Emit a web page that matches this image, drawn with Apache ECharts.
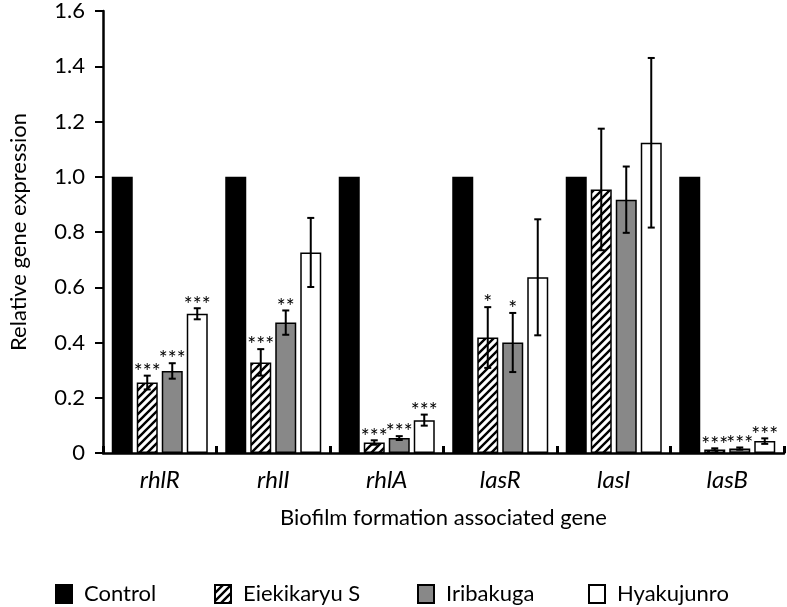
<!DOCTYPE html>
<html>
<head>
<meta charset="utf-8">
<script src="https://cdn.jsdelivr.net/npm/echarts@6/dist/echarts.min.js"></script>
<style>html,body{margin:0;padding:0;background:#fff}#chart{width:787px;height:607px}</style>
</head>
<body>
<div id="chart"></div>
<script>
const categories = ['rhlR', 'rhlI', 'rhlA', 'lasR', 'lasI', 'lasB'];
const seriesNames = ['Control', 'Eiekikaryu S', 'Iribakuga', 'Hyakujunro'];
const yTicks = [0, 0.2, 0.4, 0.6, 0.8, 1.0, 1.2, 1.4, 1.6];

const controlValues    = [1, 1, 1, 1, 1, 1];
const eiekikaryuValues = [0.255, 0.328, 0.038, 0.418, 0.954, 0.013];
const iribakugaValues  = [0.297, 0.472, 0.054, 0.400, 0.917, 0.016];
const hyakujunroValues = [0.504, 0.726, 0.119, 0.636, 1.123, 0.043];

const eiekikaryuErr = [0.025, 0.048, 0.008, 0.110, 0.220, 0.004];
const iribakugaErr  = [0.028, 0.044, 0.007, 0.107, 0.120, 0.004];
const hyakujunroErr = [0.020, 0.125, 0.020, 0.210, 0.307, 0.010];

const eiekikaryuSig = ['***', '***', '***', '*', '', '***'];
const iribakugaSig  = ['***', '**', '***', '*', '', '***'];
const hyakujunroSig = ['***', '', '***', '', '', '***'];

const FONT = 'Lato';

function hatchPattern() {
  const s = 8;
  const c = document.createElement('canvas');
  c.width = s; c.height = s;
  const g = c.getContext('2d');
  g.fillStyle = '#fff';
  g.fillRect(0, 0, s, s);
  g.strokeStyle = '#000';
  g.lineWidth = 2.4;
  g.beginPath();
  g.moveTo(-s, s); g.lineTo(s, -s);
  g.moveTo(0, s); g.lineTo(s, 0);
  g.moveTo(0, 2 * s); g.lineTo(2 * s, 0);
  g.stroke();
  return c;
}

const BAR_W = 21;
const BAR_STEP = 25;
const fills = ['#000000', { image: hatchPattern(), repeat: 'repeat' }, '#888888', '#ffffff'];
const valueSets = [controlValues, eiekikaryuValues, iribakugaValues, hyakujunroValues];
const errSets = [null, eiekikaryuErr, iribakugaErr, hyakujunroErr];
const sigSets = [null, eiekikaryuSig, iribakugaSig, hyakujunroSig];

const series = [];
seriesNames.forEach((name, i) => {
  series.push({
    name: name,
    type: 'bar',
    barWidth: BAR_W,
    barGap: ((BAR_STEP - BAR_W) / BAR_W * 100) + '%',
    itemStyle: { color: fills[i], borderColor: '#000', borderWidth: 1.5 },
    emphasis: { disabled: true },
    data: valueSets[i]
  });
});

[1, 2, 3].forEach(i => {
  const offset = (i - 1.5) * BAR_STEP;
  const vals = valueSets[i], errs = errSets[i], sigs = sigSets[i];
  series.push({
    name: seriesNames[i] + ' error',
    type: 'custom',
    z: 5,
    silent: true,
    data: vals.map((v, k) => [k, v, errs[k]]),
    renderItem: function (params, api) {
      const k = api.value(0), v = api.value(1), e = api.value(2);
      const p = api.coord([k, v]);
      const x = p[0] + offset;
      const top = api.coord([k, v + e])[1];
      const bot = api.coord([k, Math.max(0, v - e)])[1];
      const cap = 3.5;
      const ls = { stroke: '#000', lineWidth: 2 };
      const children = [
        { type: 'line', shape: { x1: x, y1: top, x2: x, y2: bot }, style: ls },
        { type: 'line', shape: { x1: x - cap, y1: top, x2: x + cap, y2: top }, style: ls },
        { type: 'line', shape: { x1: x - cap, y1: bot, x2: x + cap, y2: bot }, style: ls }
      ];
      const s = sigs[params.dataIndex];
      if (s) {
        children.push({
          type: 'text',
          style: {
            text: s, x: x, y: top + 7,
            align: 'center', verticalAlign: 'bottom',
            font: '21px ' + FONT, fill: '#000'
          }
        });
      }
      return { type: 'group', children: children };
    }
  });
});

const legendLefts = [50, 209, 412, 583];
const legends = seriesNames.map((n, i) => ({
  data: [n],
  left: legendLefts[i],
  top: 578,
  icon: 'rect',
  itemWidth: 16,
  itemHeight: 18,
  selectedMode: false,
  textStyle: { fontFamily: FONT, fontSize: 22, color: '#000', padding: [0, 0, 0, 7] }
}));

const chart = echarts.init(document.getElementById('chart'), null, { renderer: 'canvas' });
chart.setOption({
  animation: false,
  backgroundColor: '#fff',
  textStyle: { fontFamily: FONT },
  grid: { left: 96, right: 3, top: 10, bottom: 154, containLabel: false },
  legend: legends,
  xAxis: {
    type: 'category',
    data: categories,
    name: 'Biofilm formation associated gene',
    nameLocation: 'middle',
    nameGap: 54,
    nameTextStyle: { fontFamily: FONT, fontSize: 22, color: '#000' },
    axisLine: { lineStyle: { color: '#000', width: 2.5 } },
    axisTick: { show: true, inside: true, length: 7, lineStyle: { color: '#000', width: 3 } },
    axisLabel: { fontFamily: FONT, fontSize: 24, fontStyle: 'italic', color: '#000', margin: 15 }
  },
  yAxis: {
    type: 'value',
    min: yTicks[0],
    max: yTicks[yTicks.length - 1],
    interval: 0.2,
    name: 'Relative gene expression',
    nameLocation: 'middle',
    nameGap: 73,
    nameTextStyle: { fontFamily: FONT, fontSize: 22, color: '#000' },
    axisLine: { show: true, lineStyle: { color: '#000', width: 2.5 } },
    axisTick: { show: true, length: 8, lineStyle: { color: '#000', width: 2 } },
    splitLine: { show: false },
    axisLabel: {
      fontFamily: FONT, fontSize: 22, color: '#000', margin: 18,
      formatter: v => (Math.abs(v) < 1e-9 ? '0' : v.toFixed(1))
    }
  },
  series: series
});
</script>
</body>
</html>
